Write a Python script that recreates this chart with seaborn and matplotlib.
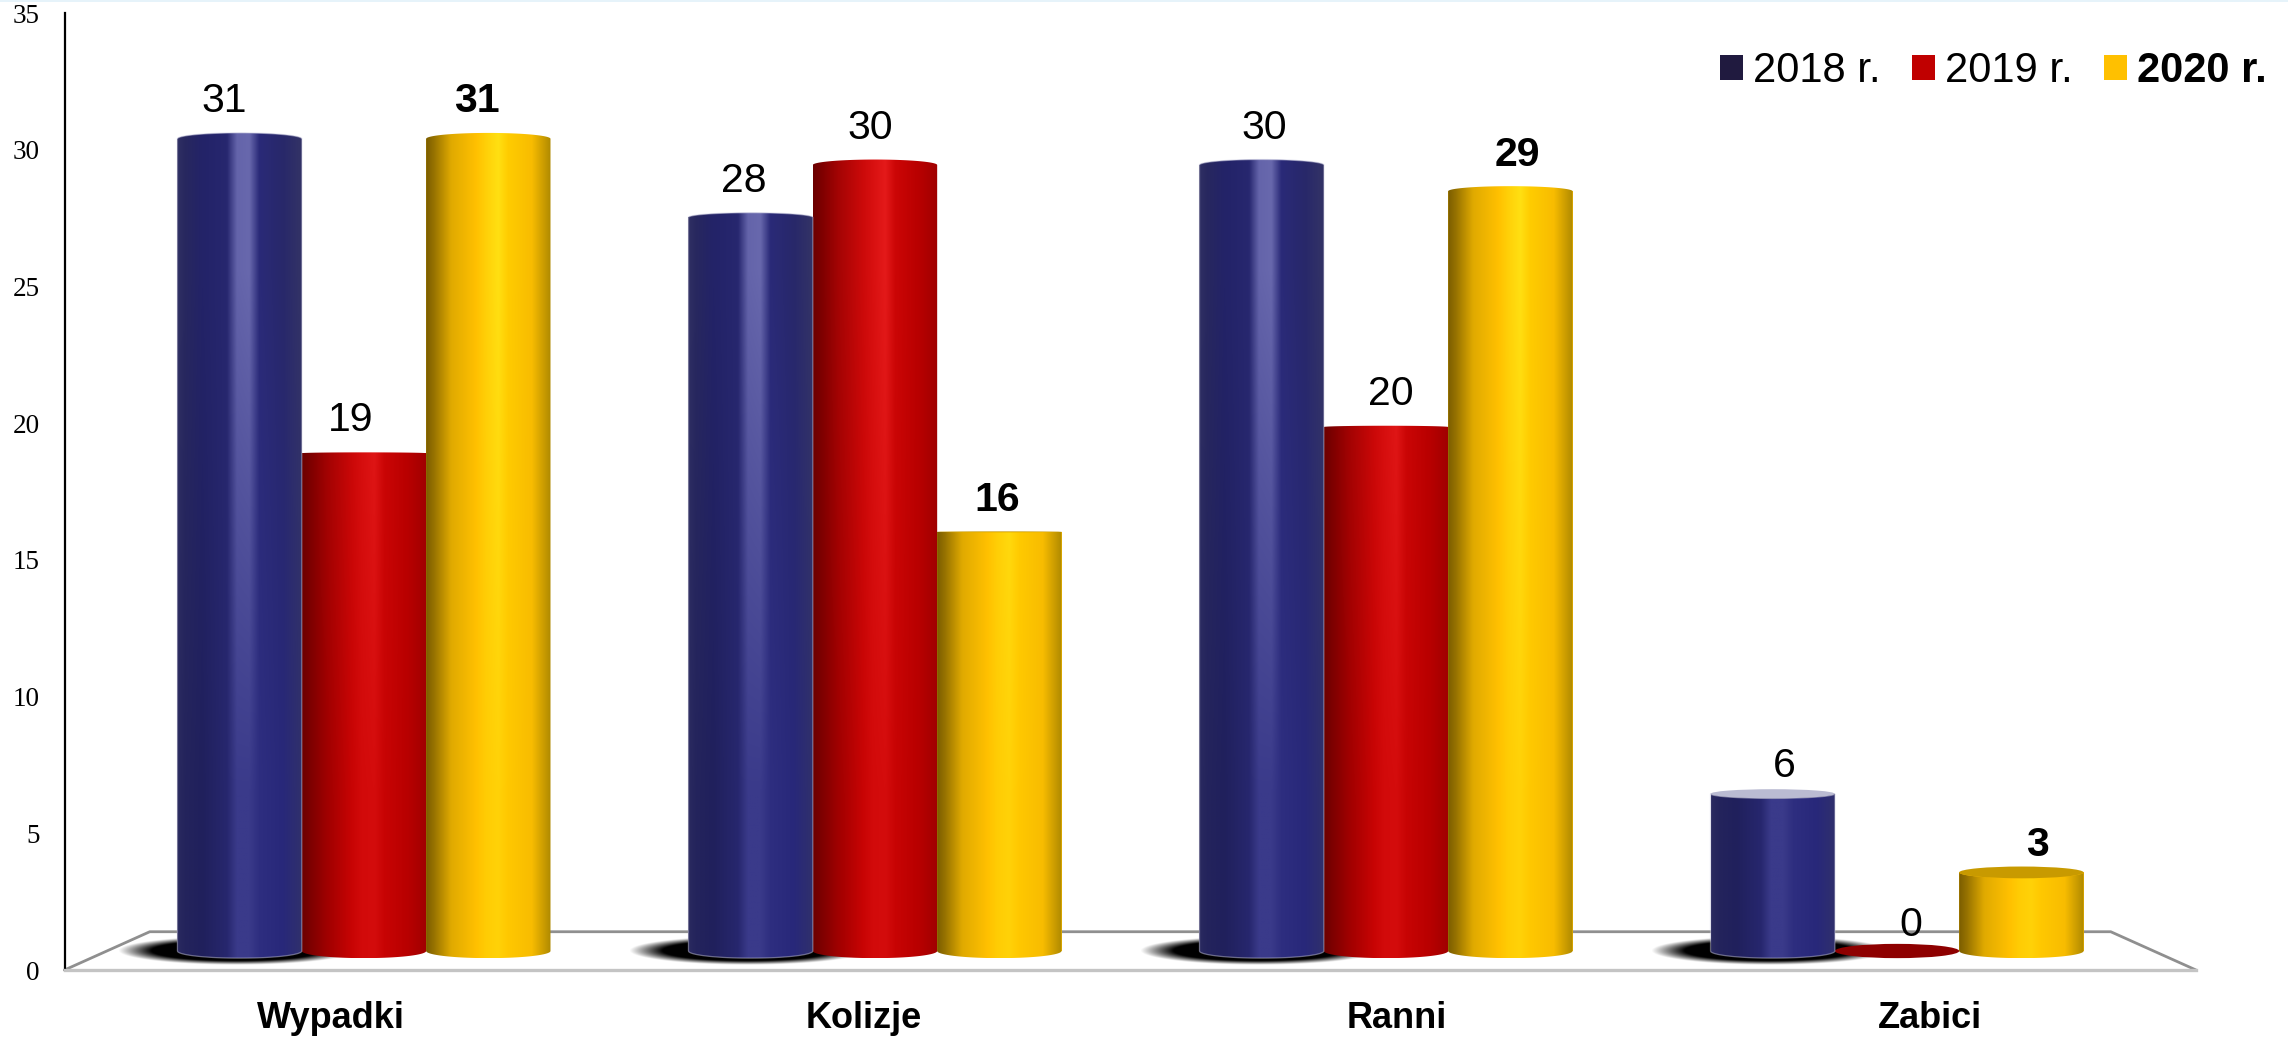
import numpy as np
import pandas as pd
import seaborn as sns
import matplotlib.pyplot as plt
from matplotlib.path import Path
from matplotlib.patches import PathPatch, Ellipse, Rectangle

categories = ['Wypadki', 'Kolizje', 'Ranni', 'Zabici']
years = ['2018 r.', '2019 r.', '2020 r.']
v2018 = [31, 28, 30, 6]
v2019 = [19, 30, 20, 0]
v2020 = [31, 16, 29, 3]
yticks = [0, 5, 10, 15, 20, 25, 30, 35]

legend_colors = ['#201a3f', '#c00000', '#ffc000']
cap_colors = ['#babbd2', '#8e0000', '#c89a00']

# horizontal shading of the cylinders: near the top of the plot and near the floor
stops = [0, .06, .2, .4, .48, .58, .66, .85, 1]
shade_top = [
    ['#303064', '#28285f', '#232368', '#27276f', '#6464aa', '#6868ad', '#2a2a78', '#28286a', '#333366'],
    ['#6c0000', '#7c0000', '#a40404', '#cc0a0a', '#d81010', '#e41a1a', '#cc0606', '#b80000', '#a00000'],
    ['#7c5e00', '#967200', '#e0aa00', '#ffc000', '#ffd008', '#ffe012', '#ffcc00', '#f8bc00', '#b08a00'],
]
shade_low = [
    ['#2a2a60', '#24245c', '#20205c', '#27276e', '#3a3a8a', '#3a3a8a', '#2e2e80', '#28287a', '#30306c'],
    ['#6c0000', '#7c0000', '#a00000', '#c80404', '#d20a0a', '#d40c0c', '#c80404', '#b80000', '#a00000'],
    ['#7c5e00', '#967200', '#e0aa00', '#ffc000', '#ffcc04', '#ffd208', '#ffc800', '#f8bc00', '#b08a00'],
]

df = pd.DataFrame({
    'kat': categories * 3,
    'rok': np.repeat(years, 4),
    'ile': v2018 + v2019 + v2020,
})

sns.set_theme(style='white')
plt.rcParams['font.family'] = ['Liberation Sans', 'DejaVu Sans']

W, H = 2288, 1037
fig = plt.figure(figsize=(W / 100, H / 100), dpi=100, facecolor='white')
rect = [64.5 / W, 1 - 970 / H, (2196 - 64.5) / W, (970 - 13.3) / H]

# front plane of the fake 3D chart: carries the axis, ticks and category names
front = fig.add_axes(rect, zorder=1)
front.set_xlim(-0.5, 3.5)
front.set_ylim(0, 35)
front.set_yticks(yticks)
front.set_xticks(range(4))
front.set_xticklabels(categories, fontsize=26, fontweight='bold', color='black')
front.tick_params(axis='x', length=0, pad=22)
front.tick_params(axis='y', length=8, width=1.2, color='black', pad=10)
for t in front.get_yticklabels():
    t.set_family('Liberation Serif')
    t.set_fontsize(19.5)
    t.set_color('black')
sns.despine(ax=front, top=True, right=True)
front.spines['left'].set_color('black')
front.spines['left'].set_linewidth(1.6)
front.spines['bottom'].set_color('#c4c4c4')
front.spines['bottom'].set_linewidth(2.4)
front.plot([0, .04, .96, 1], [0, .04, .04, 0], transform=front.transAxes,
           color='#8f8f8f', lw=2, clip_on=False)

# bars live on their own axes because the columns sit in the rear plane
ax = fig.add_axes(rect, zorder=2)
ax.patch.set_alpha(0)
sns.barplot(data=df, x='kat', y='ile', hue='rok', palette=legend_colors, width=0.73,
            gap=0, linewidth=0, saturation=1, ax=ax)
xlim = (-0.586, 3.585)
ylim = (-0.725, 35.79)
PX = 26.2  # pixels per unit on the bar scale


def half_cap(v):
    return 0.42 * abs(v - 17) / PX


def arc(x0, x1, yc, hh, a, b):
    t = np.linspace(a, b, 60)
    return np.c_[(x0 + x1) / 2 + (x1 - x0) / 2 * np.cos(t), yc + hh * np.sin(t)]


gy = np.linspace(0, 1, 128)
for s, cont in enumerate(ax.containers):
    top_rgb = np.array([plt.matplotlib.colors.to_rgb(c) for c in shade_top[s]])
    low_rgb = np.array([plt.matplotlib.colors.to_rgb(c) for c in shade_low[s]])
    for bar in cont:
        x0, w, v = bar.get_x(), bar.get_width(), bar.get_height()
        x1 = x0 + w
        h0 = half_cap(0)
        hv = half_cap(v)
        if s == 0:
            # soft contact shadow under the blue columns
            sx = np.linspace(-1, 1, 220)
            sy = np.linspace(-1, 1, 60)
            r = np.hypot(*np.meshgrid(sx, sy))
            shadow = np.zeros((60, 220, 4))
            shadow[..., 3] = np.clip((1 - r) / 0.28, 0, 1)
            cx = x0 + w / 2 - 4 / 511
            ax.imshow(shadow, extent=[cx - 118 / 511, cx + 118 / 511, -14 / PX, 14 / PX],
                      aspect='auto', origin='lower', zorder=1, interpolation='bilinear')
        if v == 0:
            ax.add_patch(Ellipse((x0 + w / 2, 0), w, 2 * h0, facecolor=cap_colors[s],
                                 edgecolor='none', zorder=3))
            continue
        # body outline: bottom arc, sides, and a domed top when above eye level
        if v > 17:
            outline = np.r_[arc(x0, x1, 0, h0, np.pi, 2 * np.pi), arc(x0, x1, v, hv, 0, np.pi)]
        else:
            outline = np.r_[arc(x0, x1, 0, h0, np.pi, 2 * np.pi), arc(x0, x1, v, hv, 2 * np.pi, np.pi)]
        rows = np.linspace(-h0, v + hv, 240)
        img = np.zeros((240, 128, 3))
        for i, yy in enumerate(rows):
            k = np.clip((yy - 6) / 20, 0, 1)
            for c in range(3):
                img[i, :, c] = np.interp(gy, stops, low_rgb[:, c] * (1 - k) + top_rgb[:, c] * k)
        im = ax.imshow(img, extent=[x0, x1, -h0, v + hv], aspect='auto', origin='lower',
                       zorder=3, interpolation='bilinear')
        clip = PathPatch(Path(np.r_[outline, outline[:1]]), transform=ax.transData,
                         facecolor='none', edgecolor='none')
        im.set_clip_path(clip)
        if s == 0:
            ax.add_patch(PathPatch(Path(np.r_[outline, outline[:1]]), facecolor='none',
                                   edgecolor='#c4c4dc', lw=0.9, alpha=0.5, zorder=3.1))
        if v < 17:
            ax.add_patch(Ellipse((x0 + w / 2, v), w, 2 * hv, facecolor=cap_colors[s],
                                 edgecolor='none', zorder=3.2))

# value labels follow a slight perspective shift
for s, cont in enumerate(ax.containers):
    for bar in cont:
        v = bar.get_height()
        xc = bar.get_x() + bar.get_width() / 2
        ax.text(xc + 0.0178 * (xc - 1.5), v * 1.014 + 0.57, f'{v:.0f}', ha='center', va='baseline',
                fontsize=29.5, color='black', fontweight='bold' if s == 2 else 'normal', zorder=5)

ax.set_xlim(*xlim)
ax.set_ylim(*ylim)
ax.set_xlabel('')
ax.set_ylabel('')
ax.axis('off')
leg = ax.legend(*ax.get_legend_handles_labels(), loc='upper right', ncol=3, frameon=False,
                bbox_to_anchor=(2267 / W, 1 - 51 / H), bbox_transform=fig.transFigure,
                fontsize=30, handlelength=0.55, handleheight=0.55, handletextpad=0.25,
                columnspacing=0.75, borderpad=0, borderaxespad=0, labelcolor='black')
leg.get_texts()[2].set_fontweight('bold')

fig.add_artist(Rectangle((0, 1 - 1.5 / H), 1, 1.5 / H, transform=fig.transFigure,
                         facecolor='#e6f3fa', edgecolor='none'))
fig.savefig('out.png', dpi=100)
